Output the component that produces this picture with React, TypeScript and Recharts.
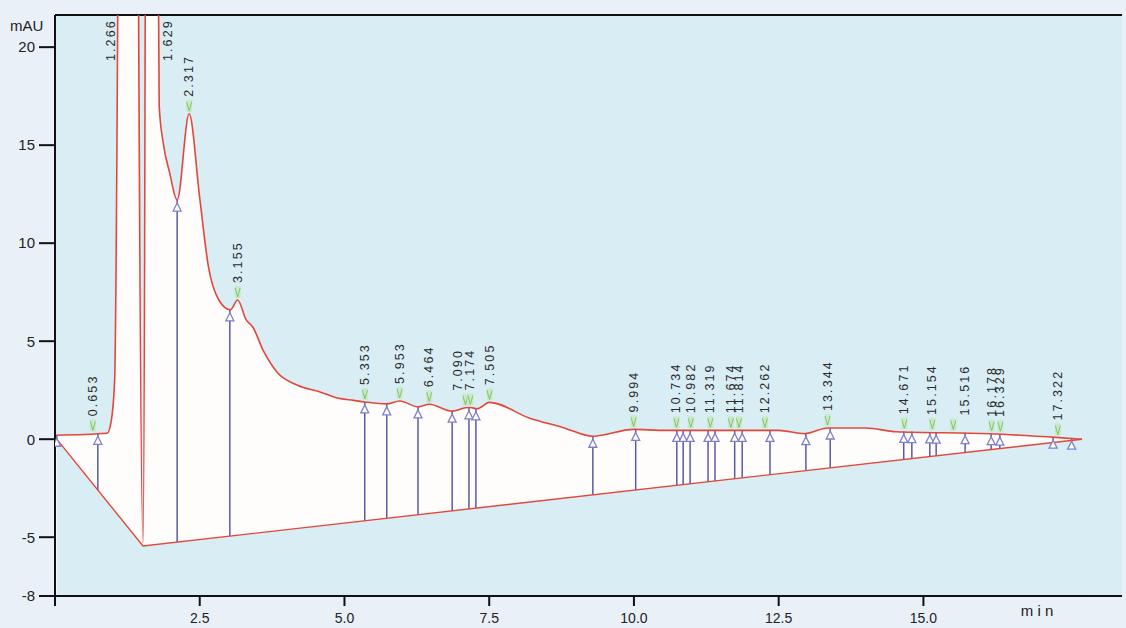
import React from "react";
import {
  Area,
  CartesianGrid,
  ComposedChart,
  Line,
  ReferenceLine,
  Scatter,
  XAxis,
  YAxis,
} from "recharts";

// detector trace (min, mAU)
const signalTime = [
  0, 0.9, 0.97, 1.03, 1.266, 1.52, 1.629, 1.8, 1.87, 1.98, 2.11, 2.317, 2.5, 2.65, 2.83, 3.03,
  3.155, 3.3, 3.42, 3.6, 3.84, 4.19, 4.59, 4.88, 5.16, 5.353, 5.73, 5.953, 6.27, 6.464, 6.86,
  7.09, 7.174, 7.29, 7.505, 8.2, 8.77, 9.29, 9.994, 10.5, 12.5, 12.95, 13.344, 14.0, 14.53,
  16.14, 17.34, 17.74,
];
const signalValue = [
  0.2, 0.3, 0.9, 3, 120, -5.3, 90, 17, 15.1, 13.6, 12.2, 16.6, 12.3, 8.8, 7.1, 6.6, 7.1, 6.1,
  5.7, 4.5, 3.4, 2.75, 2.4, 2.1, 1.98, 1.9, 1.8, 1.95, 1.65, 1.78, 1.43, 1.6, 1.62, 1.55, 1.88,
  1.07, 0.6, 0.15, 0.5, 0.45, 0.45, 0.28, 0.57, 0.57, 0.38, 0.28, 0.08, 0,
];

// integration baseline
const baselineTime = [0.03, 1.52, 17.74];
const baselineValue = [0, -5.45, 0];

// drop lines from trace to baseline
const dropTime = [
  0.03, 0.74, 2.11, 3.02, 5.35, 5.73, 6.27, 6.86, 7.15, 7.27, 9.29, 10.03, 10.74, 10.85, 10.97,
  11.28, 11.4, 11.74, 11.87, 12.35, 12.97, 13.39, 14.66, 14.8, 15.11, 15.22, 15.72, 16.17, 16.32,
  17.24, 17.56,
];
const dropTop = [
  0.2, 0.3, 12.2, 6.6, 1.9, 1.8, 1.65, 1.43, 1.6, 1.55, 0.15, 0.5, 0.45, 0.45, 0.45, 0.45, 0.45,
  0.45, 0.45, 0.45, 0.28, 0.57, 0.4, 0.39, 0.37, 0.36, 0.33, 0.28, 0.26, 0.1, 0.05,
];
const dropBottom = [
  0, -2.6, -5.25, -4.95, -4.16, -4.03, -3.85, -3.66, -3.56, -3.52, -2.84, -2.6, -2.36, -2.32,
  -2.28, -2.17, -2.13, -2.02, -1.97, -1.81, -1.6, -1.46, -1.04, -0.99, -0.89, -0.85, -0.68,
  -0.53, -0.48, -0.17, -0.06,
];

// retention-time labels and apex heights
const peakLabels = [
  "0.653", "1.266", "1.629", "2.317", "3.155", "5.353", "5.953", "6.464", "7.090", "7.174",
  "7.505", "9.994", "10.734", "10.982", "11.319", "11.674", "11.814", "12.262", "13.344",
  "14.671", "15.154", "15.516", "16.178", "16.329", "17.322",
];
const peakHeight = [
  0.3, 120, 90, 16.6, 7.1, 1.9, 1.95, 1.78, 1.6, 1.62, 1.88, 0.5, 0.45, 0.45, 0.45, 0.45, 0.45,
  0.45, 0.57, 0.4, 0.37, 0.34, 0.28, 0.26, 0.08,
];

const xTicks = [0, 2.5, 5, 7.5, 10, 12.5, 15];
const yTicks = [-8, -5, 0, 5, 10, 15, 20];

const signalData = signalTime.map((t, i) => ({ t, v: signalValue[i] }));
const baselineData = baselineTime.map((t, i) => ({ t, v: baselineValue[i] }));
const dropData = dropTime.map((t, i) => ({ t, v: dropTop[i], b: dropBottom[i] }));
const peakData = peakLabels.map((label, i) => ({ t: parseFloat(label), v: peakHeight[i], label }));

const FONT = "'Liberation Sans', Arial, sans-serif";
const PLOT_BG = "#d9edf5";
const TRACE = "#e2473a";
const DROP = "#5a5aa8";
const Y_MAX = 21.64;

// crowded labels are pushed sideways in the original
const labelNudge: Record<string, number> = { "1.266": -17, "1.629": 19, "7.090": -7, "15.516": 12 };

function DropMarker(props: any) {
  const { cx, cy } = props;
  if (cx == null || cy == null) return null;
  return (
    <path
      d={`M${cx},${cy + 3} l-4,8 h8 z`}
      fill="#fff"
      stroke="#8080c8"
      strokeWidth={1.3}
    />
  );
}

function PeakLabel(props: any) {
  const { cx, cy, payload } = props;
  if (cx == null || cy == null) return null;
  const x = cx + (labelNudge[payload.label] ?? 0);
  const onChart = cy > 20;
  const ay = Math.max(cy - 17, 61);
  return (
    <g>
      {onChart && (
        <g>
          <rect x={cx - 3} y={cy - 14} width={6} height={12} fill="#c9eac4" />
          <path
            d={`M${cx - 2.5},${cy - 12} L${cx},${cy - 3} L${cx + 2.5},${cy - 12}`}
            stroke="#7fc476"
            strokeWidth={1}
            fill="none"
          />
        </g>
      )}
      <text
        transform={`translate(${x},${ay}) rotate(-90)`}
        dominantBaseline="central"
        fontSize={12.5}
        letterSpacing={2.1}
        fill="#2a2a2a"
        fontFamily={FONT}
      >
        {payload.label}
      </text>
    </g>
  );
}

export default function App() {
  return (
    <div
      style={{
        position: "absolute",
        left: 0,
        top: 0,
        width: 1126,
        height: 628,
        background: "#eaf0f7",
        fontFamily: FONT,
      }}
    >
      <ComposedChart width={1126} height={628} margin={{ top: 15, right: 4, left: 0, bottom: 0 }}>
        <CartesianGrid fill={PLOT_BG} horizontal={false} vertical={false} />
        <XAxis
          type="number"
          dataKey="t"
          domain={[0, 18.43]}
          ticks={xTicks}
          allowDataOverflow
          height={32}
          tickFormatter={(v: number) => (v === 0 ? "" : v.toFixed(1))}
          axisLine={{ stroke: "#111", strokeWidth: 2 }}
          tickLine={{ stroke: "#111", strokeWidth: 2 }}
          tickSize={10}
          tickMargin={7}
          tick={{ fontSize: 14, fill: "#222", fontFamily: FONT }}
          label={{
            content: () => (
              <text x={1037} y={616} fontSize={15} fill="#222" fontFamily={FONT} textAnchor="middle">
                m i n
              </text>
            ),
          }}
        />
        <YAxis
          type="number"
          dataKey="v"
          domain={[-8, Y_MAX]}
          ticks={yTicks}
          allowDataOverflow
          width={55}
          axisLine={{ stroke: "#111", strokeWidth: 2 }}
          tickLine={{ stroke: "#111", strokeWidth: 2 }}
          tickSize={16}
          tickMargin={4}
          tick={{ fontSize: 15, fill: "#222", fontFamily: FONT }}
          label={{
            content: () => (
              <text x={10} y={31} fontSize={15} fill="#222" fontFamily={FONT}>
                mAU
              </text>
            ),
          }}
        />
        <ReferenceLine y={Y_MAX} stroke="#111" strokeWidth={2} />

        <Area
          data={signalData}
          dataKey="v"
          type="monotone"
          baseValue={-8}
          stroke="none"
          fill="#fffdfb"
          fillOpacity={1}
          isAnimationActive={false}
        />
        <Area
          data={baselineData}
          dataKey="v"
          type="linear"
          baseValue={-8}
          stroke="none"
          fill={PLOT_BG}
          fillOpacity={1}
          isAnimationActive={false}
        />

        {dropData.map((d, i) => (
          <ReferenceLine
            key={i}
            segment={[
              { x: d.t, y: d.b },
              { x: d.t, y: d.v },
            ]}
            stroke={DROP}
            strokeWidth={1.5}
          />
        ))}

        <Line
          data={baselineData}
          dataKey="v"
          type="linear"
          stroke={TRACE}
          strokeWidth={1.4}
          dot={false}
          isAnimationActive={false}
        />
        <Line
          data={signalData}
          dataKey="v"
          type="monotone"
          stroke={TRACE}
          strokeWidth={1.6}
          dot={false}
          isAnimationActive={false}
        />

        <Scatter data={dropData} dataKey="v" shape={DropMarker} isAnimationActive={false} />
        <Scatter data={peakData} dataKey="v" shape={PeakLabel} isAnimationActive={false} />
      </ComposedChart>
    </div>
  );
}
